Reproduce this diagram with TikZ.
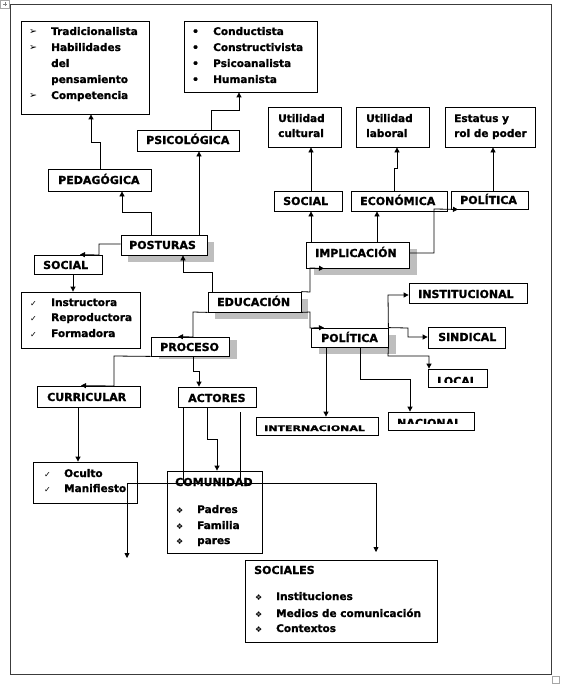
\documentclass[tikz,border=0pt]{standalone}
\usepackage{fontspec}
\setmainfont{DejaVu Sans}[BoldFeatures={FakeBold=1.2}]
\usetikzlibrary{arrows.meta,calc}
\definecolor{shadowgray}{RGB}{190,190,190}
\definecolor{framegray}{RGB}{60,60,60}
\tikzset{
 bx/.style={draw=black, line width=0.8pt, fill=white, inner sep=0pt, rectangle},
 lb/.style={font=\bfseries\fontsize{11}{13}\selectfont, inner sep=0pt, anchor=base west},
 li/.style={font=\bfseries\fontsize{10.5}{12}\selectfont, inner sep=0pt, anchor=base west},
 bul/.style={font=\fontsize{8}{10}\selectfont, inner sep=0pt, anchor=base west},
 arr/.style={line width=0.8pt, -{Triangle[length=5pt,width=5pt]}},
 ln/.style={line width=0.8pt},
}
\newcommand\mybox[5]{\node[bx,minimum width={#4-#2},minimum height={#5-#3}] (#1) at ({(#2+#4)/2},{(#3+#5)/2}) {};}
\newcommand\myshadow[6]{\fill[shadowgray] ({#1+#5},{#2+#6}) rectangle ({#3+#5},{#4+#6});}
\begin{document}
\begin{tikzpicture}[x=1pt,y=-1pt]
\useasboundingbox (0,0) rectangle (570,698);
% frame and page marks
\draw[framegray, line width=1pt] (10,5) rectangle (551,674);
\draw[gray!70, line width=0.5pt] (0.5,0.5) rectangle (9.5,8);
\draw[gray, line width=0.4pt] (3,4.2) -- (7,4.2) (5,2) -- (5,6.5);
\draw[gray!70, line width=0.6pt] (552,676) rectangle (559,683);

% shadows
\myshadow{306}{242}{409}{268}{8}{7}
\myshadow{311}{328}{388}{347}{8}{7}
\myshadow{208}{292}{301}{312}{7}{7}
\myshadow{151}{337}{229}{356}{8}{3}
\myshadow{121}{235}{207}{255}{7}{7}

% boxes
\mybox{plist}{21}{21}{149}{114}
\mybox{slist}{184}{21}{317}{92}
\mybox{psico}{137}{130}{239}{151}
\mybox{pedag}{48}{169}{151}{191}
\mybox{ucult}{268}{107}{341}{147}
\mybox{ulab}{356}{107}{429}{147}
\mybox{est}{445}{107}{535}{147}
\mybox{socT}{274}{191}{342}{211}
\mybox{eco}{351}{191}{447}{211}
\mybox{polT}{451}{191}{528}{209}
\mybox{impl}{306}{242}{409}{268}
\mybox{inst}{409}{283}{527}{303}
\mybox{sind}{428}{327}{505}{348}
\mybox{polM}{311}{328}{388}{347}
\mybox{local}{428}{369}{487}{387}
\mybox{nac}{388}{412}{474}{430}
\mybox{intl}{256}{417}{378}{435}
\mybox{edu}{208}{292}{301}{312}
\mybox{proc}{151}{337}{229}{356}
\mybox{post}{121}{235}{207}{255}
\mybox{socL}{34}{255}{102}{274}
\mybox{ilist}{21}{292}{140}{348}
\mybox{curr}{37}{386}{140}{407}
\mybox{act}{178}{387}{256}{407}
\mybox{oc}{33}{462}{137}{503}
\mybox{com}{167}{471}{262}{553}
\mybox{socs}{245}{560}{437}{642}

% list texts
\foreach \yy [count=\i] in {35,51,99} \node[bul, font=\fontsize{9.5}{10}\selectfont] (pb\i) at (29,\yy) {➢};
\node[li] (p1) at (51,35) {Tradicionalista};
\node[li] (p2) at (51,51) {Habilidades};
\node[li] (p3) at (51,67) {del};
\node[li] (p4) at (51,83) {pensamiento};
\node[li] (p5) at (51,99) {Competencia};

\foreach \yy [count=\i] in {35,51,67,83} \node[li] (sb\i) at (192,\yy) {•};
\node[li] (s1) at (213,35) {Conductista};
\node[li] (s2) at (213,51) {Constructivista};
\node[li] (s3) at (213,67) {Psicoanalista};
\node[li] (s4) at (213,83) {Humanista};

\node[li] (u1) at (278,122) {Utilidad};
\node[li] (u2) at (278,137) {cultural};
\node[li] (u3) at (366,122) {Utilidad};
\node[li] (u4) at (366,137) {laboral};
\node[li] (u5) at (454,122) {Estatus y};
\node[li] (u6) at (454,137) {rol de poder};

\foreach \yy [count=\i] in {306,321,337} \node[bul] (ib\i) at (30,\yy) {✓};
\node[li] (i1) at (51,306) {Instructora};
\node[li] (i2) at (51,321) {Reproductora};
\node[li] (i3) at (51,337) {Formadora};

\foreach \yy [count=\i] in {477,492} \node[bul] (ob\i) at (44,\yy) {✓};
\node[li] (o1) at (64,477) {Oculto};
\node[li] (o2) at (64,492) {Manifiesto};

\node[lb] (tcom) at (175,486) {COMUNIDAD};
\foreach \yy [count=\i] in {513,529,544} \node[bul] (cb\i) at (176,\yy) {❖};
\node[li] (c1) at (197,513) {Padres};
\node[li] (c2) at (197,529) {Familia};
\node[li] (c3) at (197,544) {pares};

\node[lb] (tsocs) at (254,574) {SOCIALES};
\foreach \yy [count=\i] in {600,617,632} \node[bul] (xb\i) at (255,\yy) {❖};
\node[li] (x1) at (276,600) {Instituciones};
\node[li] (x2) at (276,617) {Medios de comunicación};
\node[li] (x3) at (276,632) {Contextos};

% labels
\node[lb] (tpsico) at (146,144) {PSICOLÓGICA};
\node[lb] (tpedag) at (58,184) {PEDAGÓGICA};
\node[lb] (tsocT) at (283,205) {SOCIAL};
\node[lb] (teco) at (360,205) {ECONÓMICA};
\node[lb] (tpolT) at (460,204) {POLÍTICA};
\node[lb] (timpl) at (315,257) {IMPLICACIÓN};
\node[lb] (tinst) at (418,298) {INSTITUCIONAL};
\node[lb] (tsind) at (438,341) {SINDICAL};
\node[lb] (tpolM) at (321,342) {POLÍTICA};
\node[lb] (tedu) at (217,306) {EDUCACIÓN};
\node[lb] (tpost) at (129,249) {POSTURAS};
\node[lb] (tsocL) at (43,269) {SOCIAL};
\node[lb] (tproc) at (160,351) {PROCESO};
\node[lb] (tcurr) at (47,401) {CURRICULAR};
\node[lb] (tact) at (188,402) {ACTORES};
\node[lb, yscale=0.7] (tintl) at (264,431) {INTERNACIONAL};
\begin{scope}
\clip (428,369) rectangle (487,382);
\node[lb] (tlocal) at (437,385) {LOCAL};
\end{scope}
\begin{scope}
\clip (388,412) rectangle (474,423);
\node[lb] (tnac) at (397,427) {NACIONAL};
\end{scope}

% connectors
\draw[arr] (pedag.north -| 100,0) -- (100,142) -- (91,142) -- (plist.south -| 91,0);
\draw[arr] (psico.north -| 211,0) -- (211,110) -- (239,110) -- (slist.south -| 239,0);
\draw[arr] (post.north -| 151,0) -- (151,212) -- (122,212) -- (pedag.south -| 122,0);
\draw[arr] (post.north -| 199,0) -- (psico.south -| 199,0);
\draw[arr] (post.west |- 0,244) -- (99,244) -- (99,255) -- (socL.north -| 80,0);
\draw[arr] (socL.south -| 73,0) -- (ilist.north -| 73,0);
\draw[arr] (edu.north -| 212,0) -- (212,272) -- (183,272) -- (post.south -| 183,0);
\draw[arr] (edu.north east) -- (310,292) -- (310,268) -- (impl.south -| 324,0);
\draw[arr] (edu.south east) -- (310,312) -- (310,328) -- (polM.north -| 324,0);
\draw[arr] (edu.south west) -- (193,312) -- (193,337) -- (proc.north -| 178,0);
\draw[arr] (impl.north -| 311,0) -- (socT.south -| 311,0);
\draw[arr] (impl.north -| 377,0) -- (eco.south -| 377,0);
\draw[arr] (impl.east |- 0,253) -- (434,253) -- (434,209) -- (polT.south -| 458,0);
\draw[arr] (socT.north -| 311,0) -- (ucult.south -| 311,0);
\draw[arr] (eco.north -| 394,0) -- (394,168) -- (397,168) -- (ulab.south -| 397,0);
\draw[arr] (polT.north -| 493,0) -- (est.south -| 493,0);
\draw[arr] (polM.north east) -- (388,295) -- (inst.west |- 0,295);
\draw[arr] (polM.north east) -- (408,328) -- (408,337) -- (sind.west |- 0,337);
\draw[arr] (polM.south east) -- (388,356) -- (429,356) -- (local.north -| 429,0);
\draw[arr] (polM.south -| 360,0) -- (360,379) -- (410,379) -- (nac.north -| 410,0);
\draw[arr] (polM.south -| 326,0) -- (intl.north -| 326,0);
\draw[arr] (proc.south west) -- (114,356) -- (114,386) -- (curr.north -| 81,0);
\draw[arr] (proc.south -| 193,0) -- (193,371) -- (199,371) -- (act.north -| 199,0);
\draw[arr] (curr.south -| 78,0) -- (oc.north -| 78,0);
\draw[arr] (act.south -| 207,0) -- (207,439) -- (217,439) -- (com.north -| 217,0);
\coordinate (j1) at (183,483);
\coordinate (e1) at (127,558);
\coordinate (e2) at (376,552);
\coordinate (f1) at (240,412);
\coordinate (f2) at (240,483);
\draw[ln] (act.south -| 183,0) -- (j1);
\draw[arr] (j1) -- (127,483) -- (e1);
\draw[arr] (j1) -- (376,483) -- (e2);
\draw[ln] (f1) -- (f2);
\end{tikzpicture}
\end{document}
